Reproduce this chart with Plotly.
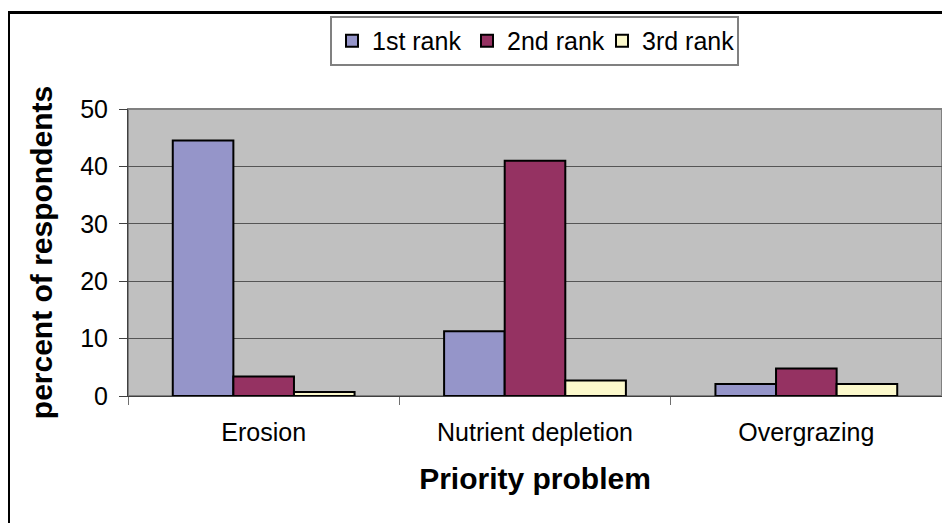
import plotly.graph_objects as go

# data
problems = ["Erosion", "Nutrient depletion", "Overgrazing"]
rank1 = [44.5, 11.3, 2.1]
rank2 = [3.4, 41.0, 4.8]
rank3 = [0.7, 2.7, 2.1]
series_names = ["1st rank", "2nd rank", "3rd rank"]
colors = ["#9595C9", "#953262", "#FCF9CC"]

OFF = 8  # the page body margin
W, H = 950 - OFF, 523 - OFF
L, R, T, B = 128 - OFF, 942 - OFF, 106 - OFF, 396 - OFF  # plot area in figure pixels

def px_x(p):
    return (p - OFF - L) / (R - L)

def px_y(p):
    return (B - (p - OFF)) / (B - T)

fig = go.Figure()
for name, vals, col in zip(series_names, [rank1, rank2, rank3], colors):
    fig.add_trace(go.Bar(
        x=problems, y=vals, name=name,
        marker=dict(color=col, line=dict(color="black", width=2)),
    ))

font = "Liberation Sans, Arial, sans-serif"
fig.update_layout(
    width=W, height=H,
    margin=dict(l=L, r=W - R, t=T, b=H - B, pad=0),
    paper_bgcolor="white",
    plot_bgcolor="#C0C0C0",
    barmode="group",
    bargap=0.33,
    bargroupgap=0,
    font=dict(family=font, size=25, color="black"),
    showlegend=True,
    legend=dict(
        orientation="h",
        x=px_x(330), y=px_y(12), xanchor="left", yanchor="top",
        bgcolor="white", bordercolor="#808080", borderwidth=2,
        font=dict(size=25), entrywidth=90, entrywidthmode="pixels",
    ),
    xaxis=dict(
        type="category",
        showline=True, linecolor="#404040", linewidth=1,
        ticks="outside", tickson="boundaries", ticklen=8, tickcolor="#707070",
        showgrid=False,
        title=dict(text="<b>Priority problem</b>", standoff=22),
        tickfont=dict(size=25),
        ticklabelstandoff=14,
    ),
    yaxis=dict(
        range=[0, 50], dtick=10,
        showline=True, linecolor="#404040", linewidth=1,
        ticks="outside", ticklen=8, tickcolor="#404040",
        showgrid=True, gridcolor="#555555", gridwidth=1,
        zeroline=False,
        title=dict(text="<b>percent of respondents</b>", standoff=18),
        tickfont=dict(size=25),
        ticklabelstandoff=6,
    ),
    shapes=[
        # plot area border (top/right gray)
        dict(type="rect", xref="paper", yref="paper", x0=0, x1=1, y0=0, y1=1,
             line=dict(color="#808080", width=2), layer="below"),
        # outer chart frame
        dict(type="rect", xref="paper", yref="paper",
             x0=px_x(8.5), x1=px_x(960), y0=px_y(535), y1=px_y(8.5),
             line=dict(color="black", width=3)),
    ],
)

fig.write_html("out.html")
